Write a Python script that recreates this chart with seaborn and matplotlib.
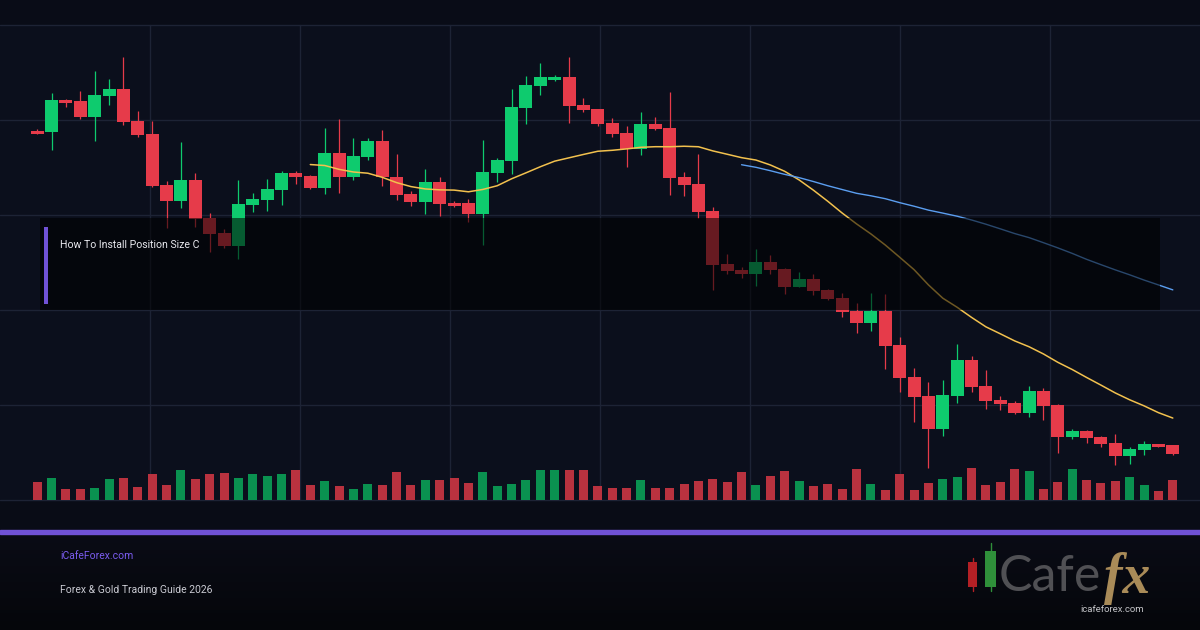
import numpy as np
import pandas as pd
import matplotlib
matplotlib.use("Agg")
import matplotlib.pyplot as plt
from matplotlib.patches import Rectangle
from matplotlib.colors import LinearSegmentedColormap
import seaborn as sns

# ---------------- data ----------------
opens = [2369, 2368, 2400, 2399, 2383, 2404, 2411, 2379, 2366, 2315,
         2299, 2320, 2282, 2267, 2254, 2295, 2300, 2310, 2327, 2324,
         2312, 2347, 2323, 2343, 2359, 2323, 2306, 2298, 2318, 2297,
         2297, 2286, 2327, 2339, 2392, 2414, 2420, 2423, 2395, 2391,
         2377, 2367, 2351, 2376, 2372, 2323, 2316, 2289, 2236, 2230,
         2226, 2238, 2231, 2213, 2221, 2210, 2202, 2189, 2177, 2189,
         2155, 2123, 2104, 2071, 2104, 2140, 2114, 2100, 2097, 2087,
         2109, 2095, 2063, 2069, 2063, 2057, 2044, 2050, 2056, 2055]
highs = [2371, 2407, 2401, 2409, 2429, 2421, 2443, 2389, 2379, 2319,
         2358, 2327, 2287, 2271, 2320, 2307, 2321, 2329, 2329, 2325,
         2372, 2381, 2362, 2362, 2370, 2346, 2309, 2331, 2323, 2299,
         2301, 2360, 2342, 2411, 2424, 2437, 2425, 2443, 2402, 2391,
         2382, 2374, 2388, 2383, 2408, 2328, 2346, 2293, 2246, 2233,
         2251, 2245, 2232, 2228, 2226, 2211, 2207, 2197, 2207, 2206,
         2163, 2132, 2118, 2120, 2156, 2144, 2130, 2104, 2099, 2114,
         2112, 2096, 2071, 2070, 2064, 2066, 2053, 2059, 2056, 2055]
lows = [2366, 2350, 2393, 2381, 2359, 2395, 2375, 2363, 2313, 2272,
        2292, 2273, 2248, 2252, 2241, 2288, 2289, 2295, 2316, 2311,
        2306, 2307, 2320, 2340, 2314, 2300, 2294, 2286, 2284, 2293,
        2278, 2255, 2318, 2326, 2376, 2405, 2419, 2377, 2388, 2374,
        2363, 2333, 2345, 2370, 2305, 2304, 2282, 2210, 2226, 2222,
        2214, 2226, 2206, 2213, 2205, 2200, 2183, 2167, 2169, 2131,
        2108, 2078, 2032, 2064, 2097, 2108, 2091, 2090, 2086, 2083,
        2080, 2047, 2061, 2057, 2053, 2035, 2036, 2045, 2053, 2045]
closes = [2366, 2400, 2397, 2383, 2405, 2411, 2378, 2365, 2314, 2299,
          2320, 2281, 2266, 2254, 2296, 2301, 2311, 2327, 2323, 2312,
          2347, 2323, 2344, 2359, 2323, 2305, 2298, 2318, 2296, 2294,
          2286, 2328, 2340, 2393, 2415, 2423, 2423, 2394, 2390, 2376,
          2366, 2351, 2376, 2371, 2322, 2315, 2288, 2235, 2229, 2226,
          2238, 2230, 2213, 2221, 2209, 2201, 2188, 2177, 2189, 2154,
          2122, 2103, 2071, 2105, 2140, 2113, 2099, 2096, 2087, 2109,
          2094, 2063, 2069, 2062, 2056, 2044, 2051, 2056, 2053, 2046]
volumes = [18, 22, 11, 11, 12, 21, 22, 13, 26, 15,
           30, 21, 26, 27, 22, 26, 24, 26, 30, 15,
           19, 14, 11, 16, 15, 28, 15, 20, 20, 22,
           17, 28, 14, 16, 20, 30, 30, 30, 30, 14,
           12, 12, 20, 12, 12, 16, 19, 21, 18, 28,
           15, 24, 29, 19, 14, 16, 11, 31, 16, 10,
           26, 10, 17, 21, 23, 32, 15, 18, 31, 29,
           11, 18, 31, 20, 17, 19, 23, 15, 9, 20]

title_text = "How To Install Position Size C"
site_text = "iCafeForex.com"
subtitle_text = "Forex & Gold Trading Guide 2026"

# ---------------- styling ----------------
BG = "#0b0f1c"
GRID = "#1d2335"
UP = "#0ecb6e"
DOWN = "#e63b4a"
VUP = "#0a9150"
VDOWN = "#b9323f"
PURPLE = "#7052d6"
MA_FAST = "#f2c14e"
MA_SLOW = "#5b9ef0"

sns.set_theme(style="dark")
plt.rcParams["font.family"] = ["Roboto", "DejaVu Sans"]

W, H = 1200, 630
fig = plt.figure(figsize=(W / 100, H / 100), dpi=100, facecolor=BG)

# background layer in pixel coordinates
bg = fig.add_axes([0, 0, 1, 1])
bg.axis("off")
bg.add_patch(Rectangle((0, 0), W, H, color=BG, zorder=0))
bg.add_patch(Rectangle((0, 0), W, 25, color="#090c17", zorder=0.5))
bg.add_patch(Rectangle((0, 500), W, 30, color="#090c16", zorder=0.5))
grad = np.linspace(0, 1, 100).reshape(-1, 1)
cmap = LinearSegmentedColormap.from_list("foot", ["#0a0c16", "#05060a"])
bg.imshow(grad, extent=(0, W, 630, 534), cmap=cmap, aspect="auto", zorder=0.6)
bg.set_xlim(0, W)
bg.set_ylim(H, 0)
for yy in [25, 120, 215, 310, 405, 500]:
    bg.plot([0, W], [yy, yy], color=GRID, lw=1.0, zorder=1)
for xx in [150, 300, 450, 600, 750, 900, 1050]:
    bg.plot([xx, xx], [25, 500], color=GRID, lw=1.0, zorder=1)
bg.add_patch(Rectangle((0, 530), W, 4, color=PURPLE, zorder=2))

# main price axes
rect = [30 / W, (H - 500) / H, 1150 / W, 475 / H]
ax = fig.add_axes(rect)
n = len(opens)
idx = np.arange(n)
o = np.array(opens); c = np.array(closes); hi = np.array(highs); lo = np.array(lows)
up = c >= o
col = np.where(up, UP, DOWN)

# volume (seaborn barplot) on a twin axis
axv = ax.twinx()
vdf = pd.DataFrame({"idx": idx, "vol": volumes,
                    "dir": np.where(up, "up", "down")})
sns.barplot(data=vdf, x="idx", y="vol", hue="dir",
            palette={"up": VUP, "down": VDOWN}, dodge=False, width=0.63,
            saturation=1, errorbar=None, legend=False, ax=axv,
            linewidth=0, edgecolor="none")
axv.set_ylim(0, 475)
axv.set_xlim(-0.5, n - 0.5)
axv.axis("off")

ax.set_zorder(axv.get_zorder() + 1)
ax.patch.set_alpha(0)

# candles
ax.vlines(idx, lo, hi, colors=col, lw=0.9, zorder=2)
body = np.where(np.abs(c - o) < 1.2, np.sign(c - o + 1e-9) * 1.2, c - o)
ax.bar(idx, body, bottom=o, width=0.9, color=col, linewidth=0, zorder=3)

# moving averages
close_s = pd.Series(closes, dtype=float)
ma_df = pd.DataFrame({"idx": idx,
                      "ma20": close_s.rolling(20).mean(),
                      "ma50": close_s.rolling(50).mean()})
sns.lineplot(data=ma_df, x="idx", y="ma20", color=MA_FAST, lw=1.1, ax=ax, zorder=4)
sns.lineplot(data=ma_df, x="idx", y="ma50", color=MA_SLOW, lw=1.0, ax=ax, zorder=4)

ax.set_xlim(-0.5, n - 0.5)
ax.set_ylim(2000, 2475)
ax.axis("off")

# overlay layer (title box, footer, logo)
ov = fig.add_axes([0, 0, 1, 1])
ov.set_zorder(ax.get_zorder() + 1)
ov.patch.set_alpha(0)
ov.set_xlim(0, W)
ov.set_ylim(H, 0)
ov.axis("off")
ov.add_patch(Rectangle((40, 218), 1120, 92, color="#000000", alpha=0.55, lw=0))
ov.add_patch(Rectangle((44, 227), 4, 77, color=PURPLE, lw=0))
ov.text(60, 245, title_text, color="#e8e8ee", fontsize=7.6, va="center", ha="left")

ov.text(60, 556, site_text, color="#7b5cf0", fontsize=7.5, va="center", ha="left")
ov.text(60, 590, subtitle_text, color="#c9cad2", fontsize=7.5, va="center", ha="left")

# logo
ov.add_patch(Rectangle((968, 562), 9, 25, color="#b42025", lw=0))
ov.plot([972.5, 972.5], [558, 591], color="#b42025", lw=1)
ov.add_patch(Rectangle((985, 551), 11, 36, color="#2f8f3a", lw=0))
ov.plot([990.5, 990.5], [543, 591], color="#2f8f3a", lw=1)
ov.text(999, 591, "Cafe", color="#505054", fontsize=36, family=["Lato", "DejaVu Sans"],
        fontweight="normal", va="baseline", ha="left")
ov.text(1104, 593, "fx", color="#a98b58", fontsize=40, family=["Liberation Serif", "DejaVu Serif"],
        fontweight="bold", fontstyle="italic", va="baseline", ha="left")
ov.text(1112, 609, "icafeforex.com", color="#c4c4c8", fontsize=6.8, va="center", ha="center")

fig.savefig("out.png", dpi=100, facecolor=BG)
